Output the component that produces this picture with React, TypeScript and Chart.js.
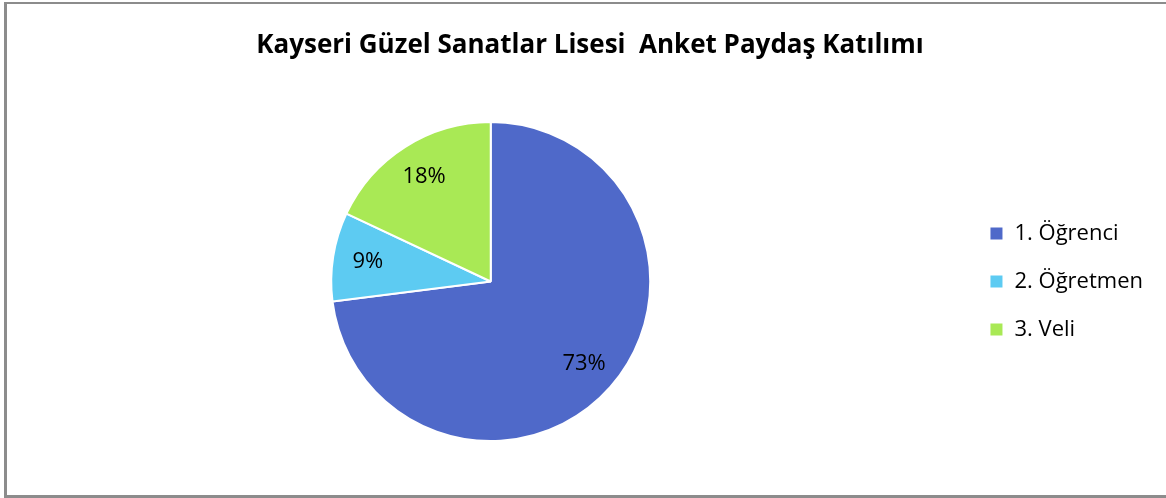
import React, { useEffect, useRef } from "react";
import { Chart, registerables } from "chart.js";

Chart.register(...registerables);

const TITLE = "Kayseri Güzel Sanatlar Lisesi  Anket Paydaş Katılımı";
const categories = ["1. Öğrenci", "2. Öğretmen", "3. Veli"];
const values = [73, 9, 18];
const valueLabels = ["73%", "9%", "18%"];
const colors = ["#4F69C9", "#5DCBF2", "#A9E955"];

const FONT = "'Open Sans', 'Noto Sans', sans-serif";

const titlePlugin = {
  id: "customTitle",
  afterDraw(chart: any) {
    const ctx = chart.ctx;
    ctx.save();
    ctx.font = `bold 26px ${FONT}`;
    ctx.fillStyle = "#000";
    ctx.textAlign = "center";
    ctx.textBaseline = "middle";
    ctx.fillText(TITLE, 590, 46);
    ctx.restore();
  },
};

const labelPlugin = {
  id: "sliceLabels",
  afterDatasetsDraw(chart: any) {
    const ctx = chart.ctx;
    const meta = chart.getDatasetMeta(0);
    ctx.save();
    ctx.font = `22px ${FONT}`;
    ctx.fillStyle = "#000";
    ctx.textAlign = "center";
    ctx.textBaseline = "middle";
    meta.data.forEach((arc: any, i: number) => {
      const { x, y, startAngle, endAngle, outerRadius } = arc.getProps(
        ["x", "y", "startAngle", "endAngle", "outerRadius"],
        true
      );
      const mid = (startAngle + endAngle) / 2;
      const r = outerRadius * 0.78;
      ctx.fillText(valueLabels[i], x + Math.cos(mid) * r, y + Math.sin(mid) * r);
    });
    ctx.restore();
  },
};

export default function App() {
  const ref = useRef<HTMLCanvasElement>(null);
  useEffect(() => {
    if (!ref.current) return;
    const chart = new Chart(ref.current, {
      type: "pie",
      data: {
        labels: categories,
        datasets: [
          {
            data: values,
            backgroundColor: colors,
            borderColor: "#ffffff",
            borderWidth: 2,
          },
        ],
      },
      options: {
        animation: false,
        responsive: false,
        layout: { padding: { top: 121, bottom: 56, left: 18, right: 13 } },
        plugins: {
          title: { display: false },
          tooltip: { enabled: false },
          legend: {
            display: true,
            position: "right",
            labels: {
              boxWidth: 14,
              boxHeight: 14,
              padding: 26,
              color: "#000",
              font: { family: FONT, size: 22 },
            },
          },
        },
      },
      plugins: [titlePlugin, labelPlugin],
    });
    return () => chart.destroy();
  }, []);

  return (
    <div
      style={{
        position: "fixed",
        left: 0,
        top: 0,
        width: 1166,
        height: 498,
        overflow: "hidden",
        background: "#fff",
      }}
    >
      <canvas
        ref={ref}
        width={1166}
        height={498}
        style={{ position: "absolute", left: 0, top: 0 }}
      />
      <div
        style={{
          position: "absolute",
          left: 4,
          top: 2,
          width: 1180,
          height: 491,
          border: "3px solid #8c8c8c",
          borderTopWidth: 2,
          pointerEvents: "none",
        }}
      />
    </div>
  );
}
